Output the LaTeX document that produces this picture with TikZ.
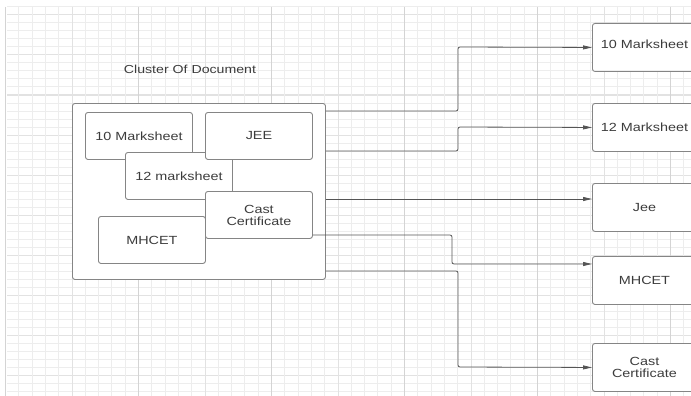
\documentclass[tikz,border=0pt]{standalone}
\usepackage{fontspec}
\setmainfont{Liberation Sans}
\newfontfamily\lab[FakeStretch=1.22]{Liberation Sans}
\usetikzlibrary{arrows.meta}
\definecolor{txt}{HTML}{3C3C3C}
\definecolor{edge}{HTML}{858585}
\definecolor{conn}{HTML}{555555}
\definecolor{gminor}{HTML}{EDEDED}
\definecolor{gmid}{HTML}{E2E2E2}
\definecolor{gmajor}{HTML}{D4D4D4}
\tikzset{
  box/.style={draw=edge, line width=0.9pt, fill=white, rounded corners=2.5pt,
    minimum width=107pt, minimum height=47pt, anchor=north west, inner sep=0pt,
    align=center, text=txt, font=\lab\fontsize{11.8}{13}\selectfont},
  rbox/.style={box, minimum width=104pt, minimum height=48pt},
  clusterbox/.style={draw=edge, line width=0.9pt, fill=white, rounded corners=2.5pt,
    minimum width=253pt, minimum height=176pt, anchor=north west, inner sep=0pt},
  conn/.style={draw=conn, line width=0.8pt, rounded corners=2pt},
  arr/.style={conn, -{Triangle[length=9pt,width=4pt]}},
  title/.style={text=txt, font=\lab\fontsize{11.6}{13}\selectfont}
}
\begin{document}
\begin{tikzpicture}[x=1pt,y=-1pt]
\useasboundingbox (0,0) rectangle (691,396);
\fill[white] (0,0) rectangle (691,396);
\clip (0,0) rectangle (691,396);
% grid
\foreach \k in {0,...,48}{
  \pgfmathsetmacro\yy{7+8*\k}
  \pgfmathtruncatemacro\m{mod(\k-1,5)}
  \ifnum\m=0 \draw[gmid, line width=1pt] (7,\yy) -- (691,\yy);
  \else \draw[gminor, line width=1pt] (7,\yy) -- (691,\yy); \fi
}
\foreach \i in {0,...,51}{
  \pgfmathsetmacro\xx{5.5+13.3*\i}
  \pgfmathtruncatemacro\mt{mod(\i,10)}
  \pgfmathtruncatemacro\mf{mod(\i,5)}
  \ifnum\mt=0 \draw[gmajor, line width=1.1pt] (\xx,7) -- (\xx,396);
  \else\ifnum\mf=0 \draw[gmid, line width=1pt] (\xx,7) -- (\xx,396);
  \else \draw[gminor, line width=1pt] (\xx,7) -- (\xx,396); \fi\fi
}
% title
\node[title] (ttl) at (190,69) {Cluster Of Document};
% cluster
\node[clusterbox] (cl) at (72,103) {};
\node[box] (ten) at (85,112) {10 Marksheet};
\node[box] (mh) at (98,216) {MHCET};
\node[box] (tw) at (125,152) {12 marksheet};
\node[box] (jee) at (205,112) {JEE};
\node[box] (cast) at (205,191) {Cast\\[-1pt]Certificate};
% right boxes
\node[rbox] (r1) at (592,23) {\raisebox{7pt}{10 Marksheet}};
\node[rbox] (r2) at (592,103) {12 Marksheet};
\node[rbox] (r3) at (592,183) {Jee};
\node[rbox] (r4) at (592,256) {MHCET};
\node[rbox] (r5) at (592,343) {Cast\\[-1pt]Certificate};
% connectors
\draw[arr] (cl.east |- 0,111) -| (458,47) -- (r1.west);
\draw[arr] (cl.east |- 0,151) -| (458,127) -- (r2.west);
\draw[arr] (cl.east |- 0,199) -- (r3.west |- 0,199);
\draw[arr] (cast.east |- 0,235) -| (452,264) -- (r4.west |- 0,264);
\draw[arr] (cl.east |- 0,271) -| (458,367) -- (r5.west);
\end{tikzpicture}
\end{document}
